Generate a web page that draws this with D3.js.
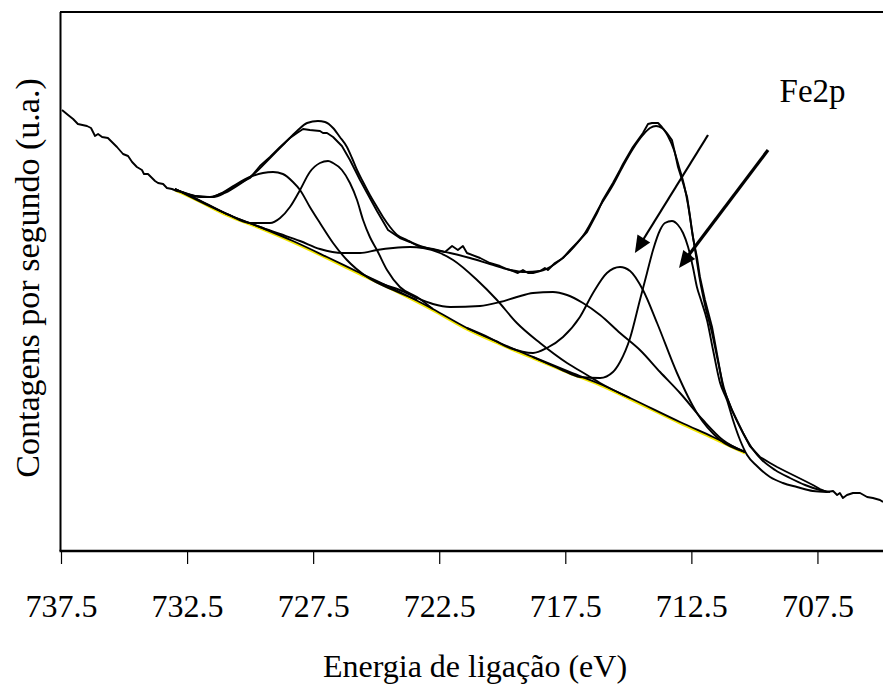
<!DOCTYPE html>
<html>
<head>
<meta charset="utf-8">
<script src="https://cdn.jsdelivr.net/npm/d3@7"></script>
<style>
  html, body { margin: 0; padding: 0; background: #fff; }
  svg { display: block; font-family: "Liberation Serif", "Times New Roman", serif; }
  svg text { font-family: "Liberation Serif", "Times New Roman", serif; }
  .curve { fill: none; stroke: #000; stroke-width: 1.9; stroke-linejoin: round; }
</style>
</head>
<body>
<div id="graph"></div>
<script>
// binding energy ticks (eV)
var energyTicks = [737.5, 732.5, 727.5, 722.5, 717.5, 712.5, 707.5];

// measured spectrum [eV, counts (a.u.)]
var expSpectrum = [
  [737.46,441],[737.22,436],[737.02,432],[736.83,427],[736.47,425],[736.31,423],[736.23,419],[736.15,415],
  [736.03,417],[735.87,414],[735.64,413],[735.48,409],[735.28,404],[735.04,397],[734.84,395],[734.68,389],
  [734.49,384],[734.29,381],[734.21,377],[734.05,377],[733.89,373],[733.77,370],[733.65,368],[733.45,367],
  [733.30,363],[733.10,362],[732.90,360],[732.70,359],[732.46,357],[732.19,355],[731.71,354],[731.47,354],
  [731.08,358],[730.80,362],[730.40,368],[730.00,373],[729.61,385],[729.21,394],[728.81,404],[728.42,413],
  [728.14,418],[727.90,422],[727.63,421],[727.23,420],[727.11,418],[726.95,418],[726.71,414],[726.36,405],
  [726.04,391],[725.84,381],[725.64,371],[725.36,358],[724.97,340],[724.53,321],[724.06,313],[723.66,309],
  [723.26,304],[722.75,302],[722.27,299],[721.99,305],[721.76,301],[721.56,305],[721.40,298],[720.88,293],
  [720.49,288],[720.09,285],[719.81,282],[719.57,280],[719.38,278],[719.18,281],[718.98,278],[718.78,278],
  [718.50,280],[718.31,283],[718.19,281],[717.91,288],[717.59,293],[717.31,301],[717.04,308],[716.64,319],
  [716.24,338],[716.01,351],[715.61,368],[715.33,381],[715.21,387],[714.82,404],[714.42,418],[714.22,427],
  [714.06,428],[713.82,428],[713.67,424],[713.47,418],[713.27,411],[713.15,398],[713.03,384],[712.83,368],
  [712.67,354],[712.55,334],[712.44,314],[712.28,294],[712.16,274],[711.96,251],[711.68,224],[711.44,191],
  [711.25,164],[710.89,141],[710.45,118],[710.18,105],[709.78,94],[709.38,88],[709.10,84],[708.79,80],
  [708.47,76],[708.07,71],[707.68,66],[707.40,62],[707.12,59],[706.88,60],[706.72,56],[706.61,58],
  [706.49,53],[706.33,56],[706.09,58],[705.81,58],[705.53,54],[705.30,53],[705.02,51],[704.90,49]
];

// fitted envelope
var fitEnvelope = [
  [732.98,362],[732.38,356],[731.99,354],[731.47,354],[731.00,358],[730.40,367],[729.81,378],[729.21,393],
  [728.62,408],[728.14,420],[727.74,428],[727.31,430],[727.03,429],[726.71,423],[726.44,414],[726.16,404],
  [725.96,393],[725.76,381],[725.52,369],[725.25,356],[724.97,344],[724.73,334],[724.45,324],[724.17,316],
  [723.78,311],[723.26,305],[722.67,301],[722.07,298],[721.28,293],[720.49,287],[719.69,281],[719.10,279],
  [718.50,280],[717.91,287],[717.31,300],[716.72,318],[716.12,345],[715.61,366],[715.21,385],[714.82,402],
  [714.42,416],[714.14,423],[713.90,425],[713.67,423],[713.43,415],[713.19,401],[712.99,384],[712.79,366],
  [712.63,346],[712.48,321],[712.32,296],[712.16,271],[711.96,246],[711.68,218],[711.44,189],[711.21,163],
  [710.89,141],[710.45,118],[710.10,103],[709.70,91],[709.18,81],[708.59,73],[707.99,66],[707.40,61],[707.00,59]
];

// background
var background = [
  [732.98,362],[732.27,354],[730.92,337],[729.61,324],[728.30,310],[726.95,294],[725.64,278],[724.06,259],
  [722.75,242],[721.40,223],[720.09,208],[718.78,194],[717.43,180],[716.12,167],[714.93,153],[712.95,129],
  [711.64,114],[710.37,99]
];

// fitted components
var peakA = [
  [732.98,362],[732.19,355],[731.59,354],[731.12,358],[730.60,366],[730.00,374],[729.49,378],[729.09,379],
  [728.70,377],[728.30,369],[728.02,361],[727.63,344],[727.23,328],[726.71,308],[726.16,291],[725.36,274],
  [724.33,261],[723.38,251]
];
var peakB = [
  [732.98,362],[730.92,337],[730.00,328],[729.21,328],[728.81,333],[728.42,344],[728.02,361],[727.63,379],
  [727.23,388],[726.91,390],[726.71,388],[726.36,381],[726.04,368],[725.76,351],[725.52,331],[725.25,314],
  [724.97,301],[724.57,281],[724.06,264],[723.38,254],[722.75,242]
];
var peakC = [
  [732.27,354],[730.92,337],[729.61,324],[728.81,317],[728.02,310],[727.23,302],[726.32,298],[725.64,298],
  [724.97,301],[724.33,303],[723.66,304],[723.14,303],[722.47,298],[721.95,291],[721.00,271],[720.21,251],
  [719.42,228],[718.50,208],[717.43,188],[716.64,176],[716.12,168],[714.93,153]
];
var peakD = [
  [725.64,278],[724.85,268],[724.06,261],[723.38,253],[722.75,247],[722.07,244],[720.88,245],[720.09,249],
  [719.42,254],[718.78,258],[717.99,259],[717.43,256],[716.80,248],[716.12,236],[715.33,218],[714.54,201],
  [713.74,179],[712.95,158],[712.04,131],[711.25,111],[710.37,99]
];
var peakE = [
  [721.40,223],[720.49,213],[719.69,203],[718.78,198],[718.23,203],[717.59,214],[716.92,234],[716.40,258],
  [715.85,278],[715.33,284],[714.93,280],[714.42,261],[713.86,228],[713.07,178],[712.28,138],[711.36,111],
  [710.37,99]
];
var peakF = [
  [718.78,194],[717.71,182],[716.92,174],[716.12,173],[715.61,179],[715.33,189],[714.93,213],[714.54,251],
  [714.26,278],[714.02,301],[713.74,321],[713.55,328],[713.27,330],[713.03,326],[712.83,318],[712.63,304],
  [712.44,284],[712.28,264],[712.12,251],[711.88,231],[711.64,201],[711.36,168],[711.09,151],[710.85,131],
  [710.57,111],[710.29,96],[709.90,85],[709.38,74],[708.87,68],[708.31,64],[707.68,60],[707.12,59]
];

// arrows pointing at the two Fe 2p3/2 components
var arrows = [
  { from: [711.84, 416], to: [714.74, 298], w: 2.2 },
  { from: [709.46, 401], to: [712.99, 283], w: 3.2 }
];

var width = 883, height = 688;
var plotLeft = 61, plotRight = 883, plotTop = 12, plotBottom = 551;
var serif = 'Liberation Serif, Times New Roman, serif';

var x = d3.scaleLinear().domain([737.5, 704.9]).range([plotLeft, plotRight]);
var y = d3.scaleLinear().domain([0, 539]).range([plotBottom, plotTop]);

var vis = d3.select('#graph').append('svg')
    .attr('width', width)
    .attr('height', height);

var smooth = d3.line()
    .x(function(d) { return x(d[0]); })
    .y(function(d) { return y(d[1]); })
    .curve(d3.curveMonotoneX);

var rough = d3.line()
    .x(function(d) { return x(d[0]); })
    .y(function(d) { return y(d[1]); });

var plot = vis.append('g');

// background with its yellow fringe
plot.append('path')
    .datum(background)
    .attr('d', smooth)
    .attr('fill', 'none')
    .attr('stroke', '#f2e600')
    .attr('stroke-width', 2.4)
    .attr('transform', 'translate(0,1.4)');
plot.append('path')
    .datum(background)
    .attr('class', 'curve')
    .attr('d', smooth);

plot.selectAll('path.peak')
    .data([peakA, peakB, peakC, peakD, peakE, peakF])
    .enter().append('path')
    .attr('class', 'curve peak')
    .attr('d', smooth);

plot.append('path')
    .datum(fitEnvelope)
    .attr('class', 'curve')
    .attr('d', smooth);

plot.append('path')
    .datum(expSpectrum)
    .attr('class', 'curve')
    .attr('d', rough);

// arrows
arrows.forEach(function(a) {
    var x1 = x(a.from[0]), y1 = y(a.from[1]);
    var x2 = x(a.to[0]), y2 = y(a.to[1]);
    var len = Math.sqrt((x2 - x1) * (x2 - x1) + (y2 - y1) * (y2 - y1));
    var ux = (x2 - x1) / len, uy = (y2 - y1) / len;
    var headLen = 17, headHalf = 7.5;
    var bx = x2 - ux * headLen, by = y2 - uy * headLen;
    vis.append('line')
        .attr('x1', x1).attr('y1', y1)
        .attr('x2', bx + ux * 2).attr('y2', by + uy * 2)
        .attr('stroke', '#000')
        .attr('stroke-width', a.w);
    vis.append('polygon')
        .attr('points', [
            [x2, y2],
            [bx - uy * headHalf, by + ux * headHalf],
            [bx + uy * headHalf, by - ux * headHalf]
        ].map(function(p) { return p.join(','); }).join(' '))
        .attr('fill', '#000');
});

// frame
vis.append('line').attr('x1', plotLeft - 1).attr('x2', width).attr('y1', plotTop).attr('y2', plotTop)
    .attr('stroke', '#000').attr('stroke-width', 2);
vis.append('line').attr('x1', plotLeft - 0.5).attr('x2', plotLeft - 0.5).attr('y1', plotTop).attr('y2', plotBottom)
    .attr('stroke', '#000').attr('stroke-width', 2);

// x axis
var xAxis = d3.axisBottom(x)
    .tickValues(energyTicks)
    .tickSize(13)
    .tickPadding(30)
    .tickFormat(d3.format('.1f'));

var gx = vis.append('g')
    .attr('transform', 'translate(0,' + plotBottom + ')')
    .call(xAxis);
gx.attr('font-size', null).attr('font-family', null);
gx.select('.domain').remove();
gx.selectAll('.tick line').attr('stroke', '#000').attr('stroke-width', 1.2);
gx.selectAll('.tick text')
    .attr('fill', '#000')
    .style('font-family', serif)
    .style('font-size', '32px');

vis.append('line').attr('x1', plotLeft - 1.5).attr('x2', width).attr('y1', plotBottom).attr('y2', plotBottom)
    .attr('stroke', '#000').attr('stroke-width', 2.6);

// labels
vis.append('text')
    .attr('x', (plotLeft + plotRight) / 2 + 3)
    .attr('y', 677)
    .attr('text-anchor', 'middle')
    .style('font-family', serif)
    .style('font-size', '32px')
    .text('Energia de ligação (eV)');

vis.append('text')
    .attr('transform', 'translate(39,278) rotate(-90)')
    .attr('text-anchor', 'middle')
    .style('font-family', serif)
    .style('font-size', '34px')
    .text('Contagens por segundo (u.a.)');

vis.append('text')
    .attr('x', x(709.0))
    .attr('y', y(449))
    .style('font-family', serif)
    .style('font-size', '33px')
    .text('Fe2p');
</script>
</body>
</html>
